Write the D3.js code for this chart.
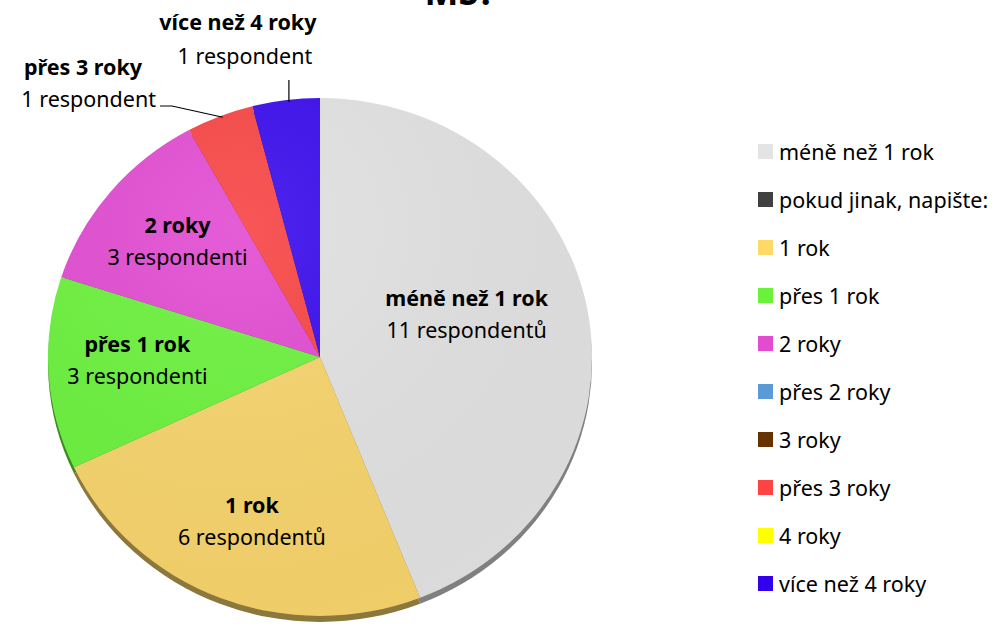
<!DOCTYPE html>
<html>
<head>
<meta charset="utf-8">
<script src="https://cdn.jsdelivr.net/npm/d3@7"></script>
<style>
  body { margin: 0; background: #fff; }
  svg { display: block; font-family: "Noto Sans", sans-serif; }
</style>
</head>
<body>
<div id="chart"></div>
<script>
// data
var categories = ["méně než 1 rok", "pokud jinak, napište:", "1 rok", "přes 1 rok", "2 roky",
                  "přes 2 roky", "3 roky", "přes 3 roky", "4 roky", "více než 4 roky"];
var respondents = [11, 0, 6, 3, 3, 0, 0, 1, 0, 1];
var countLabels = ["11 respondentů", "", "6 respondentů", "3 respondenti", "3 respondenti",
                   "", "", "1 respondent", "", "1 respondent"];
var colors = ["#e2e2e2", "#404040", "#f7d46c", "#6cf23e", "#e24cd2",
              "#5b9bd5", "#663300", "#f84545", "#ffff00", "#3a0ced"];
var legendColors = ["#e4e4e4", "#404040", "#ffd966", "#6af23a", "#e44ccf",
                    "#5b9bd5", "#663300", "#ff4242", "#ffff00", "#3300ee"];

var width = 1004, height = 629;
var cx = 320, cy = 357, r = 272, squash = 0.952, depth = 6;
var fontSize = "21.5px";

var svg = d3.select("#chart").append("svg")
    .attr("width", width)
    .attr("height", height);

// title (mostly cut off at the top)
svg.append("text")
    .attr("x", 460)
    .attr("y", 5)
    .attr("text-anchor", "middle")
    .style("font-size", "36px")
    .style("font-weight", "bold")
    .text("MS?");

var pieData = d3.pie().sort(null).value(function(d) { return d; })(respondents);
var arc = d3.arc().innerRadius(0).outerRadius(r);

var defs = svg.append("defs");
var grad = defs.append("radialGradient")
    .attr("id", "shine")
    .attr("cx", "35%").attr("cy", "25%").attr("r", "85%");
grad.append("stop").attr("offset", "0%").attr("stop-color", "#fff").attr("stop-opacity", 0.1);
grad.append("stop").attr("offset", "100%").attr("stop-color", "#000").attr("stop-opacity", 0.03);

// side (depth) of the pie
var side = svg.append("g")
    .attr("transform", "translate(" + cx + "," + (cy + depth) + ") scale(1," + squash + ")");
side.selectAll("path")
    .data(pieData.filter(function(d) { return d.value > 0; }))
    .enter()
    .append("path")
    .attr("d", arc)
    .attr("fill", function(d) { return d3.color(colors[d.index]).darker(1.6); });

var face = svg.append("g")
    .attr("transform", "translate(" + cx + "," + cy + ") scale(1," + squash + ")");
face.selectAll("path.slice")
    .data(pieData.filter(function(d) { return d.value > 0; }))
    .enter()
    .append("path")
    .attr("class", "slice")
    .attr("d", arc)
    .attr("fill", function(d) { return colors[d.index]; });

face.append("circle")
    .attr("r", r)
    .attr("fill", "url(#shine)");

// labels inside the slices
var labelRatio = {"méně než 1 rok": 0.56};
var labelShift = {"méně než 1 rok": [-3, -16], "přes 1 rok": [2, -8], "2 roky": [0, -4]};
function project(angle, radius) {
    return [cx + radius * Math.sin(angle), cy - radius * Math.cos(angle) * squash];
}

var inside = pieData.filter(function(d) { return d.value >= 3; });
var lbl = svg.selectAll("g.lbl")
    .data(inside)
    .enter()
    .append("g")
    .attr("class", "lbl")
    .attr("transform", function(d) {
        var name = categories[d.index];
        var a = (d.startAngle + d.endAngle) / 2;
        var p = project(a, r * (labelRatio[name] || 0.68));
        var s = labelShift[name] || [0, 0];
        return "translate(" + (p[0] + s[0]) + "," + (p[1] + s[1]) + ")";
    });
lbl.append("text")
    .attr("text-anchor", "middle")
    .attr("y", -8)
    .style("font-size", fontSize)
    .style("font-weight", "bold")
    .text(function(d) { return categories[d.index]; });
lbl.append("text")
    .attr("text-anchor", "middle")
    .attr("y", 24)
    .style("font-size", fontSize)
    .text(function(d) { return countLabels[d.index]; });

// small slices: labels outside with leader lines
var small = pieData.filter(function(d) { return d.value > 0 && d.value < 3; });
small.forEach(function(d) {
    var a = (d.startAngle + d.endAngle) / 2;
    var p = project(a, r);
    var name = categories[d.index];
    if (name === "více než 4 roky") {
        svg.append("path")
            .attr("d", "M" + (p[0] + 3) + "," + (p[1] + 2) + "V" + 80)
            .attr("fill", "none").attr("stroke", "#000").attr("stroke-width", 1.2);
        svg.append("text").attr("x", p[0] - 48).attr("y", 30)
            .attr("text-anchor", "middle")
            .style("font-size", fontSize).style("font-weight", "bold")
            .text(name);
        svg.append("text").attr("x", p[0] - 41).attr("y", 64)
            .attr("text-anchor", "middle")
            .style("font-size", fontSize)
            .text(countLabels[d.index]);
    } else {
        svg.append("path")
            .attr("d", "M" + (p[0] + 3) + "," + (p[1] + 1) + "L" + 172 + "," + 106 + "H" + 160)
            .attr("fill", "none").attr("stroke", "#000").attr("stroke-width", 1.2);
        svg.append("text").attr("x", 83).attr("y", 75)
            .attr("text-anchor", "middle")
            .style("font-size", fontSize).style("font-weight", "bold")
            .text(name);
        svg.append("text").attr("x", 156).attr("y", 107)
            .attr("text-anchor", "end")
            .style("font-size", fontSize)
            .text(countLabels[d.index]);
    }
});

// legend
var legend = svg.append("g")
    .attr("transform", "translate(758,144)");
var rows = legend.selectAll("g")
    .data(categories)
    .enter()
    .append("g")
    .attr("transform", function(d, i) { return "translate(0," + (i * 48) + ")"; });
rows.append("rect")
    .attr("width", 15)
    .attr("height", 15)
    .attr("fill", function(d, i) { return legendColors[i]; });
rows.append("text")
    .attr("x", 21)
    .attr("y", 16)
    .style("font-size", fontSize)
    .text(function(d) { return d; });
</script>
</body>
</html>
